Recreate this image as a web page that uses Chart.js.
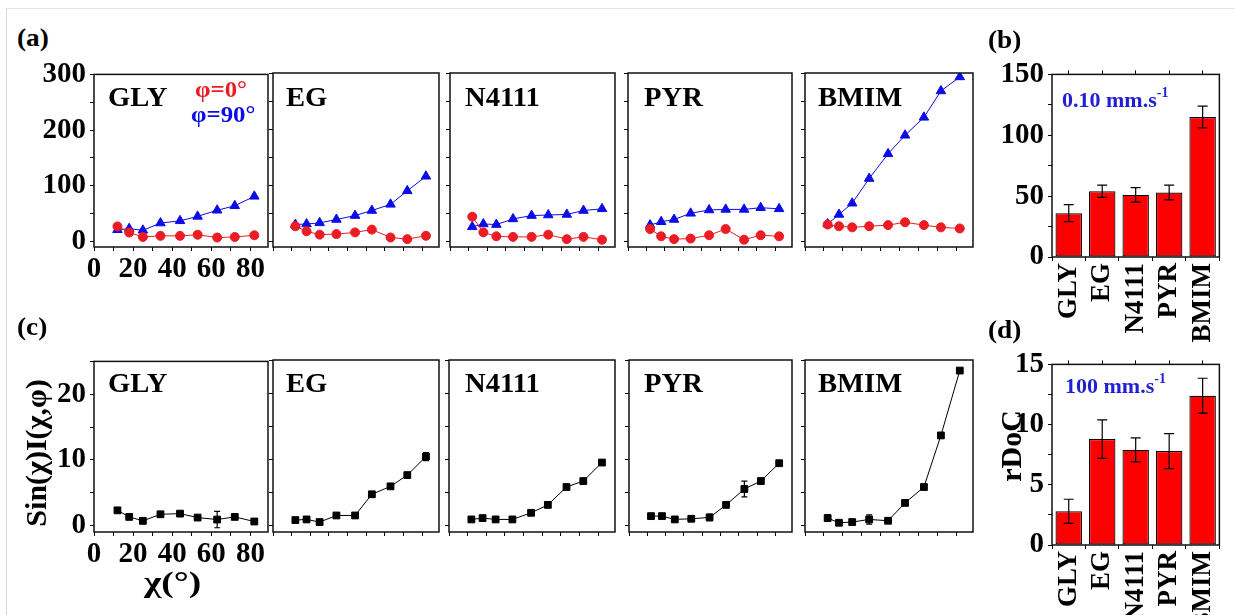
<!DOCTYPE html>
<html>
<head>
<meta charset="utf-8">
<script src="https://cdn.jsdelivr.net/npm/chart.js@4.4.0/dist/chart.umd.min.js"></script>
<style>
  html, body { margin: 0; padding: 0; background: #fff; overflow: hidden; width: 1235px; height: 615px; }
  body { position: relative; font-family: 'Liberation Serif', 'Times New Roman', serif; font-weight: bold; }
  canvas { position: absolute; }
  .t { position: absolute; white-space: nowrap; line-height: 1; transform-origin: 0 0; }
  .t sup { font-size: 14px; vertical-align: 0; position: relative; top: -10px; line-height: 0; }
  .frame { position: absolute; left: 6px; top: 8px; width: 2000px; height: 2000px; border-left: 1px solid #d6d6d6; border-top: 1px solid #e4e4e4; }
</style>
</head>
<body>
<div class="frame"></div>
<script>
// scattering angle chi (deg), shared by all line panels
const chi = [12, 18, 25, 34, 44, 53, 63, 72, 82];
const liquids = ['GLY', 'EG', 'N4111', 'PYR', 'BMIM'];

// (a) intensity, phi = 0 deg
const phi0GLY = [27, 16, 8, 10, 10, 12, 7, 8, 11];
const phi0EG = [27, 18, 12, 13, 16, 21, 7, 4, 10];
const phi0N4111 = [44, 16, 9, 8, 8, 12, 4, 8, 3];
const phi0PYR = [22, 9, 4, 5, 11, 22, 3, 11, 9];
const phi0BMIM = [30, 27, 25, 27, 29, 34, 29, 25, 23];
// (a) intensity, phi = 90 deg
const phi90GLY = [21, 23, 20, 33, 37, 45, 56, 64, 81];
const phi90EG = [30, 31, 33, 39, 46, 55, 66, 90, 116];
const phi90N4111 = [26, 31, 30, 40, 46, 47, 48, 55, 58];
const phi90PYR = [29, 35, 39, 50, 56, 57, 57, 60, 58];
const phi90BMIM = [31, 48, 68, 112, 156, 189, 221, 268, 293];

// (c) Sin(chi) I(chi, phi)
const sinGLY = [2.3, 1.3, 0.7, 1.7, 1.8, 1.2, 0.9, 1.3, 0.6];
const sinEG = [0.8, 0.9, 0.5, 1.5, 1.5, 4.7, 5.9, 7.6, 10.4];
const sinN4111 = [0.9, 1.1, 0.9, 0.9, 1.9, 3.1, 5.8, 6.7, 9.5];
const sinPYR = [1.4, 1.4, 0.9, 1.0, 1.2, 3.1, 5.5, 6.7, 9.4];
const sinBMIM = [1.1, 0.4, 0.5, 0.9, 0.7, 3.4, 5.8, 13.6, 23.4];
const sinErrGLY = [0.2, 0.2, 0.2, 0.2, 0.2, 0.2, 1.25, 0.2, 0.2];
const sinErrEG = [0.2, 0.2, 0.2, 0.2, 0.2, 0.3, 0.3, 0.3, 0.6];
const sinErrN4111 = [0.2, 0.2, 0.2, 0.2, 0.2, 0.2, 0.3, 0.3, 0.4];
const sinErrPYR = [0.2, 0.2, 0.2, 0.2, 0.5, 0.2, 1.2, 0.2, 0.2];
const sinErrBMIM = [0.5, 0.2, 0.2, 0.7, 0.2, 0.2, 0.2, 0.3, 0.3];

// (b) 0.10 mm/s and (d) 100 mm/s, rDoC
const rdocSlow = [36, 54, 51, 53, 115];
const rdocSlowErr = [7, 5, 6, 6, 9];
const rdocFast = [2.8, 8.8, 7.9, 7.8, 12.4];
const rdocFastErr = [1.0, 1.6, 1.0, 1.45, 1.45];

const RED = 'rgb(236,28,36)';
const BLUE = 'rgb(12,12,230)';
const tickFont = { family: 'Liberation Serif', weight: 'bold', size: 29 };
const catFont = { family: 'Liberation Serif', weight: 'bold', size: 27 };

const framePlugin = {
  id: 'frame',
  afterDraw(chart) {
    const a = chart.chartArea, ctx = chart.ctx;
    ctx.save();
    ctx.strokeStyle = '#111';
    ctx.lineWidth = 1.5;
    ctx.strokeRect(a.left, a.top, a.right - a.left, a.bottom - a.top);
    ctx.restore();
  }
};

const errorBarPlugin = {
  id: 'errorBars',
  afterDatasetsDraw(chart) {
    const ctx = chart.ctx;
    chart.data.datasets.forEach((ds, i) => {
      if (!ds.errorBars) return;
      const meta = chart.getDatasetMeta(i);
      const ys = chart.scales[meta.yAxisID];
      ctx.save();
      ctx.strokeStyle = '#000';
      ctx.lineWidth = 1.2;
      meta.data.forEach((el, j) => {
        const d = ds.data[j];
        const v = typeof d === 'object' ? d.y : d;
        const e = ds.errorBars[j];
        const y1 = ys.getPixelForValue(v + e), y2 = ys.getPixelForValue(v - e);
        const w = ds.capWidth;
        ctx.beginPath();
        ctx.moveTo(el.x, y1); ctx.lineTo(el.x, y2);
        ctx.moveTo(el.x - w, y1); ctx.lineTo(el.x + w, y1);
        ctx.moveTo(el.x - w, y2); ctx.lineTo(el.x + w, y2);
        ctx.stroke();
      });
      ctx.restore();
    });
  }
};

function makeCanvas(left, top, width, height) {
  const c = document.createElement('canvas');
  c.width = width; c.height = height;
  c.style.left = left + 'px'; c.style.top = top + 'px';
  c.style.width = width + 'px'; c.style.height = height + 'px';
  document.body.appendChild(c);
  return c;
}

function pts(values) {
  return chi.map((x, i) => ({ x: x, y: values[i] }));
}

function series(values, color, style, radius, errors) {
  return {
    data: pts(values),
    borderColor: color,
    backgroundColor: color,
    borderWidth: 1,
    pointStyle: style,
    pointRadius: radius,
    pointBorderWidth: 1,
    fill: false,
    tension: 0,
    errorBars: errors,
    capWidth: 3
  };
}

function linePanel(box, datasets, yAxis, showLabels) {
  const [l, t, r, b] = box;
  const padL = 75, padT = 20, padR = 22, padB = 45;
  const c = makeCanvas(l - padL, t - padT, r - l + padL + padR, b - t + padT + padB);
  new Chart(c, {
    type: 'line',
    data: { datasets: datasets },
    options: {
      responsive: false,
      animation: false,
      layout: { padding: { top: padT, right: padR, left: 0, bottom: 0 } },
      plugins: { legend: { display: false }, tooltip: { enabled: false } },
      scales: {
        x: {
          type: 'linear', min: 0, max: 89,
          ticks: { stepSize: 10, includeBounds: false, display: showLabels, font: tickFont, color: '#000',
                   padding: 1, maxRotation: 0, autoSkip: false, callback: v => v % 20 === 0 ? v : '' },
          grid: { drawOnChartArea: false, color: '#000', tickLength: 4 },
          border: { display: false },
          afterFit: s => { s.height = padB; }
        },
        y: {
          min: yAxis.min, max: yAxis.max,
          ticks: { stepSize: yAxis.step, includeBounds: false, display: showLabels, font: tickFont, color: '#000',
                   padding: 4, autoSkip: false, callback: v => v % yAxis.labelEvery === 0 ? v : '' },
          grid: { drawOnChartArea: false, color: '#000', tickLength: 4 },
          border: { display: false },
          afterFit: s => { s.width = padL; }
        }
      }
    },
    plugins: [framePlugin, errorBarPlugin]
  });
}

function barPanel(box, values, errors, yAxis) {
  const [l, t, r, b] = box;
  const padL = 75, padT = 20, padB = 100;
  const c = makeCanvas(l - padL, t - padT, r - l + padL, b - t + padT + padB);
  new Chart(c, {
    type: 'bar',
    data: {
      labels: liquids,
      datasets: [{
        data: values,
        errorBars: errors,
        capWidth: 5,
        backgroundColor: '#ff0000',
        borderColor: '#000',
        borderWidth: 1.2,
        borderSkipped: false,
        barPercentage: 0.79,
        categoryPercentage: 1
      }]
    },
    options: {
      responsive: false,
      animation: false,
      layout: { padding: { top: padT, right: 0, left: 0, bottom: 0 } },
      plugins: { legend: { display: false }, tooltip: { enabled: false } },
      scales: {
        x: {
          ticks: { font: catFont, color: '#000', maxRotation: 90, minRotation: 90, autoSkip: false, padding: 2 },
          grid: { drawOnChartArea: false, color: '#000', tickLength: 4, offset: true },
          border: { display: false },
          afterFit: s => { s.height = padB; }
        },
        xTop: {
          position: 'top',
          labels: liquids,
          ticks: { display: false },
          grid: { drawOnChartArea: false, color: '#000', tickLength: 4, offset: false },
          border: { display: false },
          afterFit: s => { s.height = 0; }
        },
        y: {
          min: yAxis.min, max: yAxis.max,
          ticks: { stepSize: yAxis.step, includeBounds: false, font: tickFont, color: '#000', padding: 4,
                   autoSkip: false, callback: v => v % yAxis.labelEvery === 0 ? v : '' },
          grid: { drawOnChartArea: false, color: '#000', tickLength: 4 },
          border: { display: false },
          afterFit: s => { s.width = padL; }
        }
      }
    },
    plugins: [framePlugin, errorBarPlugin]
  });
}

// (a) row
const axisA = { min: -10, max: 300, step: 50, labelEvery: 100 };
const topBoxes = [[94, 73, 268, 247], [273, 73, 439, 247], [450, 73, 615, 247], [628, 73, 792, 247], [805, 73, 973, 247]];
const phi0 = [phi0GLY, phi0EG, phi0N4111, phi0PYR, phi0BMIM];
const phi90 = [phi90GLY, phi90EG, phi90N4111, phi90PYR, phi90BMIM];
topBoxes.forEach((box, i) => {
  linePanel(box, [
    series(phi0[i], RED, 'circle', 4.5),
    series(phi90[i], BLUE, 'triangle', 5.5)
  ], axisA, i === 0);
});

// (c) row
const axisC = { min: -1, max: 25, step: 5, labelEvery: 10 };
const bottomBoxes = [[94, 360, 268, 532], [273, 360, 439, 532], [449, 360, 615, 532], [629, 360, 792, 532], [805, 360, 973, 532]];
const sinVals = [sinGLY, sinEG, sinN4111, sinPYR, sinBMIM];
const sinErrs = [sinErrGLY, sinErrEG, sinErrN4111, sinErrPYR, sinErrBMIM];
bottomBoxes.forEach((box, i) => {
  linePanel(box, [series(sinVals[i], '#000', 'rect', 4.8, sinErrs[i])], axisC, i === 0);
});

// (b) and (d)
barPanel([1052, 73, 1239, 257], rdocSlow, rdocSlowErr, { min: 0, max: 150, step: 25, labelEvery: 50 });
barPanel([1052, 363, 1239, 545], rdocFast, rdocFastErr, { min: 0, max: 15, step: 2.5, labelEvery: 5 });

// text overlays; the source figure is stretched sideways, so texts get a small scaleX
function addText(html, x, baseline, size, color, sx) {
  const d = document.createElement('div');
  d.className = 't';
  d.innerHTML = html;
  d.style.left = x + 'px';
  d.style.top = (baseline - 0.8375 * size) + 'px';
  d.style.fontSize = size + 'px';
  d.style.color = color || '#000';
  if (sx) d.style.transform = 'scaleX(' + sx + ')';
  document.body.appendChild(d);
  return d;
}

function addRotated(text, cx, cy, size) {
  const d = document.createElement('div');
  d.className = 't';
  d.textContent = text;
  d.style.left = cx + 'px';
  d.style.top = cy + 'px';
  d.style.fontSize = size + 'px';
  d.style.transformOrigin = '50% 50%';
  d.style.transform = 'translate(-50%,-50%) rotate(-90deg)';
  document.body.appendChild(d);
}

addText('(a)', 17, 47, 26, '#000', 1.05);
addText('(b)', 988, 49, 26, '#000', 1.05);
addText('(c)', 17, 336, 26, '#000', 1.05);
addText('(d)', 988, 339, 26, '#000', 1.05);

const titleX = [108, 286, 465, 644, 818];
liquids.forEach((name, i) => {
  addText(name, titleX[i], 107, 27, '#000', 1.06);
  addText(name, titleX[i], 393, 27, '#000', 1.06);
});

addText('φ=0°', 195, 97, 23, RED, 1.08);
addText('φ=90°', 191, 122, 23, BLUE, 1.08);

addText('0.10 mm.s<sup>-1</sup>', 1062, 107, 22, '#1f1fd6');
addText('100 mm.s<sup>-1</sup>', 1065, 393, 22, '#1f1fd6');

addText('χ(°)', 144, 592, 30, '#000', 1.25);
addRotated('Sin(χ)I(χ,φ)', 36, 453, 30);
addRotated('rDoC', 1011, 446, 30);
</script>
</body>
</html>
